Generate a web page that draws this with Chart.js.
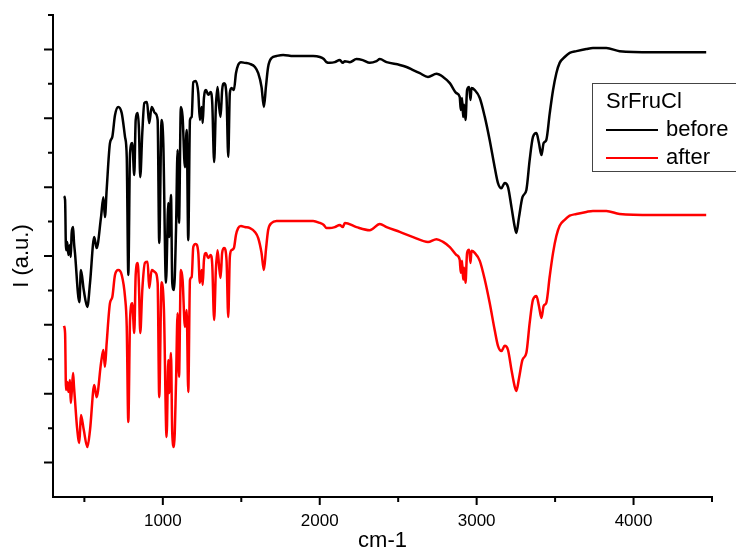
<!DOCTYPE html>
<html><head><meta charset="utf-8">
<script src="https://cdn.jsdelivr.net/npm/chart.js@4/dist/chart.umd.min.js"></script>
<style>html,body{margin:0;padding:0;background:#fff}</style>
</head><body>
<canvas id="c" width="736" height="554"></canvas>
<script>
// ---- data ----
const legendTitle = 'SrFruCl';
const seriesNames = ['before', 'after'];
const seriesColors = ['#000000', '#ff0000'];
const xTitle = 'cm-1';
const yTitle = 'I (a.u.)';
const xMajorTicks = [1000, 2000, 3000, 4000];
const xMinorTicks = [500, 1500, 2500, 3500, 4500];
const yMajorTicks = [1, 3, 5, 7, 9, 11, 13];
const yMinorTicks = [2, 4, 6, 8, 10, 12, 14];

const beforeWn = [370,377,383,391,398,408,413,419,428,434,440,468,478,496,519,536,563,578,606,621,631,642,663,678,695,716,738,759,770,780,791,805,818,827,840,848,856,869,882,899,913,929,950,967,977,992,1003,1020,1035,1041,1052,1060,1071,1084,1094,1103,1115,1126,1141,1152,1162,1173,1184,1194,1209,1226,1236,1247,1254,1262,1275,1289,1305,1315,1327,1338,1349,1359,1368,1378,1391,1406,1417,1427,1438,1453,1466,1480,1498,1523,1555,1587,1608,1629,1644,1657,1671,1693,1725,1767,1831,1894,1958,2001,2026,2043,2064,2096,2128,2147,2160,2192,2234,2274,2319,2362,2383,2426,2510,2553,2595,2638,2690,2744,2786,2829,2871,2892,2899,2907,2914,2920,2929,2939,2952,2961,2967,2988,3020,3052,3083,3115,3136,3158,3179,3200,3222,3243,3253,3270,3292,3317,3338,3359,3381,3397,3413,3427,3444,3466,3487,3508,3529,3561,3593,3636,3699,3741,3784,3827,3911,4122,4463];
const beforeI = [8.74,8.63,7.17,7.41,7.03,7.32,6.97,7.67,7.84,7.38,7.09,5.66,6.59,6.01,5.52,6.22,7.55,7.23,8.13,8.71,8.13,8.92,10.28,10.46,11.09,11.33,11.15,10.46,9.88,6.45,9.99,10.28,9.35,10.95,11.15,10.66,9.29,10.57,11.44,11.47,10.86,11.33,11.15,10.95,7.38,10.95,10.28,6.22,8.54,7.55,8.77,6.22,6.01,7.75,10.08,7.96,11.33,11.04,9.58,10.66,7.46,10.95,11.04,12.05,12.08,11.73,10.95,11.33,10.86,11.59,11.82,11.68,11.76,11.44,9.73,11.33,11.91,11.33,11.04,11.82,12.02,11.62,9.88,11.73,11.88,11.82,12.31,12.55,12.63,12.61,12.58,12.49,12.31,11.91,11.33,11.91,12.49,12.75,12.81,12.84,12.81,12.81,12.81,12.78,12.72,12.63,12.61,12.63,12.69,12.61,12.66,12.63,12.72,12.69,12.61,12.66,12.72,12.63,12.55,12.49,12.40,12.31,12.20,12.29,12.20,12.02,11.73,11.62,11.24,11.59,11.04,11.39,10.95,11.82,11.91,11.53,11.88,11.82,11.59,11.04,10.37,9.58,9.12,8.97,9.12,9.00,8.42,7.84,7.67,8.13,8.71,8.92,9.79,10.46,10.57,10.28,9.93,10.28,10.37,11.15,11.82,12.31,12.61,12.78,12.90,12.95,13.01,13.04,13.04,13.04,12.95,12.92,12.92];

const afterWn = [370,377,383,391,398,408,413,419,428,434,440,453,468,478,496,519,536,563,578,606,621,631,642,663,678,695,716,738,759,770,780,791,805,818,827,840,848,856,869,886,903,913,929,950,967,977,992,1007,1024,1035,1041,1052,1060,1071,1084,1094,1103,1115,1126,1141,1152,1162,1173,1184,1194,1209,1226,1236,1247,1254,1262,1275,1289,1305,1315,1327,1338,1349,1359,1368,1378,1391,1406,1417,1427,1438,1453,1466,1480,1498,1523,1555,1587,1608,1629,1644,1657,1671,1693,1725,1767,1831,1894,1958,2001,2026,2043,2064,2096,2128,2147,2160,2234,2319,2383,2426,2510,2595,2690,2744,2786,2829,2871,2892,2899,2907,2914,2920,2929,2939,2952,2961,2967,2988,3020,3052,3083,3115,3136,3158,3179,3200,3222,3243,3253,3270,3292,3317,3338,3359,3381,3397,3413,3427,3444,3466,3487,3508,3529,3561,3593,3636,3699,3741,3784,3827,3911,4122,4463];
const afterI = [4.97,4.76,3.11,3.34,3.05,3.40,2.73,3.02,3.60,3.19,2.82,2.03,1.57,2.38,1.95,1.45,1.95,3.25,2.90,3.89,4.27,3.78,4.47,5.63,5.81,6.45,6.59,6.45,5.81,4.94,2.18,5.14,5.63,4.76,6.45,6.80,6.10,4.76,6.01,6.80,6.83,6.07,6.59,6.53,6.22,2.90,6.24,5.43,1.74,3.98,3.02,4.18,1.86,1.45,3.31,5.34,3.49,6.59,6.30,4.94,5.43,3.05,6.30,6.39,7.26,7.35,7.09,6.22,6.59,6.16,6.88,7.09,6.94,7.03,6.74,5.14,6.59,7.17,6.68,6.36,7.09,7.23,6.88,5.23,6.97,7.17,7.23,7.61,7.81,7.87,7.84,7.81,7.70,7.52,7.09,6.59,7.17,7.75,7.96,8.02,8.02,8.02,8.02,8.02,7.96,7.90,7.81,7.81,7.84,7.90,7.84,7.96,7.84,7.75,7.93,7.84,7.70,7.55,7.41,7.49,7.41,7.26,7.03,6.89,6.51,6.86,6.31,6.66,6.22,7.09,7.18,6.80,7.15,7.09,6.86,6.31,5.64,4.85,4.39,4.24,4.39,4.27,3.69,3.20,3.08,3.45,3.98,4.19,5.06,5.73,5.84,5.55,5.20,5.55,5.64,6.42,7.09,7.58,7.88,8.05,8.17,8.22,8.28,8.31,8.31,8.31,8.22,8.19,8.19];

const toPts = (xs, ys) => xs.map((x, i) => ({x: x, y: ys[i]}));
const FONT = "'Liberation Sans', Arial, sans-serif";

// axes, tick marks and legend box drawn with the chart's scales
const axesPlugin = {
  id: 'axesPlugin',
  afterDraw(chart) {
    const ctx = chart.ctx, xs = chart.scales.x, ys = chart.scales.y;
    const a = chart.chartArea;
    ctx.save();
    ctx.strokeStyle = '#000';
    ctx.lineWidth = 2;
    ctx.lineCap = 'square';
    ctx.beginPath();
    ctx.moveTo(a.left, a.top); ctx.lineTo(a.left, a.bottom); ctx.lineTo(a.right, a.bottom);
    ctx.stroke();
    ctx.lineCap = 'butt';
    ctx.beginPath();
    xMajorTicks.forEach(v => { const p = xs.getPixelForValue(v); ctx.moveTo(p, a.bottom); ctx.lineTo(p, a.bottom + 8); });
    xMinorTicks.forEach(v => { const p = xs.getPixelForValue(v); ctx.moveTo(p, a.bottom); ctx.lineTo(p, a.bottom + 5); });
    yMajorTicks.forEach(v => { const p = ys.getPixelForValue(v); ctx.moveTo(a.left, p); ctx.lineTo(a.left - 9, p); });
    yMinorTicks.forEach(v => { const p = ys.getPixelForValue(v); ctx.moveTo(a.left, p); ctx.lineTo(a.left - 5, p); });
    ctx.stroke();

    // legend
    const bx = 592, by = 83, bw = 150, bh = 88;
    ctx.lineWidth = 1;
    ctx.strokeStyle = '#444';
    ctx.strokeRect(bx + 0.5, by + 0.5, bw, bh);
    ctx.fillStyle = '#000';
    ctx.font = '22px ' + FONT;
    ctx.textBaseline = 'middle';
    ctx.textAlign = 'left';
    ctx.fillText(legendTitle, 606, 102);
    chart.data.datasets.forEach((d, i) => {
      const yy = 130 + i * 28;
      ctx.strokeStyle = d.borderColor;
      ctx.lineWidth = 2;
      ctx.beginPath(); ctx.moveTo(606, yy); ctx.lineTo(658, yy); ctx.stroke();
      ctx.fillStyle = '#000';
      ctx.fillText(d.label, 666, yy);
    });
    ctx.restore();
  }
};

new Chart(document.getElementById('c'), {
  type: 'line',
  data: {
    datasets: [
      { label: seriesNames[0], data: toPts(beforeWn, beforeI), borderColor: seriesColors[0], borderWidth: 2.5, pointRadius: 0, cubicInterpolationMode: 'monotone', fill: false },
      { label: seriesNames[1], data: toPts(afterWn, afterI), borderColor: seriesColors[1], borderWidth: 2.5, pointRadius: 0, cubicInterpolationMode: 'monotone', fill: false }
    ]
  },
  options: {
    responsive: false,
    animation: false,
    layout: { padding: { top: 15, right: 24, left: 0, bottom: 0 } },
    plugins: { legend: { display: false }, tooltip: { enabled: false } },
    scales: {
      x: {
        type: 'linear', min: 300, max: 4500,
        afterBuildTicks: s => { s.ticks = xMajorTicks.map(v => ({ value: v })); },
        afterFit: s => { s.height = 57; },
        ticks: { color: '#000', font: { family: FONT, size: 17 }, padding: 14, maxRotation: 0, autoSkip: false, callback: v => String(v) },
        grid: { display: false, drawTicks: false },
        border: { display: false },
        title: { display: true, text: xTitle, color: '#000', font: { family: FONT, size: 22 }, padding: 0 }
      },
      y: {
        min: 0, max: 14,
        afterFit: s => { s.width = 53; },
        ticks: { display: false },
        grid: { display: false, drawTicks: false },
        border: { display: false },
        title: { display: true, text: yTitle, color: '#000', font: { family: FONT, size: 22 }, padding: { top: 9, bottom: 0 } }
      }
    }
  },
  plugins: [axesPlugin]
});
</script>
</body></html>
